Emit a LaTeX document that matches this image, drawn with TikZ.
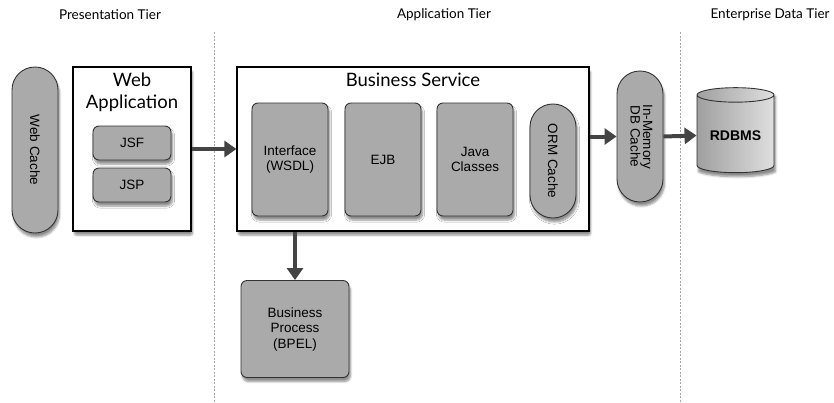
\documentclass[tikz,border=0pt]{standalone}
\usepackage{fontspec}
\setmainfont{Liberation Sans}
\newfontfamily\titlefont{Lato}
\usetikzlibrary{shapes.geometric,shadows,shadows.blur,arrows.meta}
\definecolor{boxgray}{HTML}{AAAAAA}
\definecolor{edgegray}{HTML}{333333}
\definecolor{arrowgray}{HTML}{444444}
\begin{document}
\begin{tikzpicture}[x=1pt,y=-1pt,
  shade/.style={blur shadow={shadow blur steps=6,shadow blur extra rounding=2pt,
    shadow xshift=1.5pt,shadow yshift=-4pt,shadow opacity=45}},
  container/.style={draw=black,line width=1.2pt,fill=white,shade},
  graybox/.style={draw=edgegray,line width=0.9pt,fill=boxgray,rounded corners=6pt,shade,
    align=center,font=\fontsize{13.5}{15.5}\selectfont},
  pill/.style={draw=edgegray,line width=0.9pt,fill=boxgray,rounded corners=22.9pt,shade,
    minimum width=46pt,font=\fontsize{13.5}{15.5}\selectfont},
  tiertitle/.style={font=\titlefont\fontsize{13.5}{16}\selectfont},
  boxtitle/.style={font=\titlefont\fontsize{18.5}{22}\selectfont,align=center},
  flow/.style={draw=arrowgray,line width=4pt,-{Triangle[length=12pt,width=16pt]}},
  tierline/.style={draw=gray!70,line width=0.6pt,dash pattern=on 2pt off 1.5pt}
]
\useasboundingbox (0,0) rectangle (834,402);

% tier titles
\node[tiertitle] (tp) at (110,15) {Presentation Tier};
\node[tiertitle] (ta) at (444,15) {Application Tier};
\node[tiertitle] (te) at (770,15) {Enterprise Data Tier};

% tier separators
\draw[tierline] (214,32) -- (214,402);
\draw[tierline] (680,32) -- (680,402);

% presentation tier
\node[pill,minimum height=166pt] (webcache) at (35,150) {\rotatebox{-90}{Web Cache}};
\node[container,minimum width=118pt,minimum height=164pt] (webapp) at (132,149) {};
\node[boxtitle,anchor=north] (webapptitle) at (132,69.5) {Web\\[0pt]Application};
\node[graybox,minimum width=78pt,minimum height=34pt] (jsf) at (132,143) {JSF};
\node[graybox,minimum width=78pt,minimum height=34pt] (jsp) at (132,185) {JSP};

% application tier
\node[container,minimum width=352pt,minimum height=164pt] (bs) at (413,149) {};
\node[boxtitle,anchor=north] (bstitle) at (413,69.5) {Business Service};
\node[graybox,minimum width=76pt,minimum height=113pt] (iface) at (290,159.5) {Interface\\(WSDL)};
\node[graybox,minimum width=76pt,minimum height=113pt] (ejb) at (383,159.5) {EJB};
\node[graybox,minimum width=76pt,minimum height=113pt] (java) at (475,159.5) {Java\\Classes};
\node[pill,minimum height=114pt] (orm) at (553,161) {\rotatebox{-90}{ORM Cache}};
\node[pill,minimum height=131pt] (dbc) at (640,136.5)
  {\rotatebox{-90}{\begin{tabular}{@{}c@{}}In-Memory\\[-3pt]DB Cache\end{tabular}}};
\node[graybox,minimum width=108pt,minimum height=97pt] (bp) at (295,329)
  {Business\\Process\\(BPEL)};

% data tier
\node[cylinder,shape border rotate=90,aspect=0.25,draw=edgegray,line width=0.9pt,
  left color=gray!75,right color=gray!25,shade,
  minimum width=77pt,minimum height=85pt,font=\bfseries\fontsize{14}{16}\selectfont]
  (rdbms) at (735.5,135.5) {RDBMS};

% connectors
\draw[flow] (webapp.east) -- (bs.west);
\draw[flow] (dbc.west -| bs.east) -- (dbc.west);
\draw[flow] (dbc.east) -- (rdbms.west);
\draw[flow] (bp.north |- bs.south) -- (bp.north);
\end{tikzpicture}
\end{document}
